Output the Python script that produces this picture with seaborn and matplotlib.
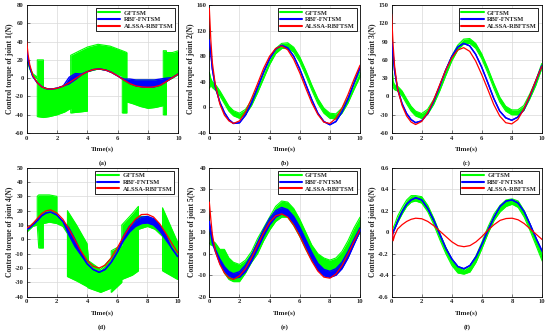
import matplotlib
matplotlib.use("Agg")
import matplotlib.pyplot as plt
import seaborn as sns
from matplotlib.lines import Line2D
from matplotlib.ticker import FuncFormatter

# common time grid (s)
t = [0, 0.1, 0.2, 0.4, 0.7, 1.0, 1.3, 1.6, 2.0, 2.4, 2.8, 3.2, 3.6, 4.0, 4.4,
     4.8, 5.2, 5.6, 6.0, 6.4, 6.8, 7.2, 7.6, 8.0, 8.4, 8.8, 9.2, 9.6, 10.0]

series_names = ["GFTSM", "RBF-FNTSM", "ALSSA-RBFTSM"]
panel_letters = ["(a)", "(b)", "(c)", "(d)", "(e)", "(f)"]

# ---- joint 1 ----
red_1 = [40, 25, 15, 3, -5, -9.5, -11.5, -12, -11, -8.7, -5, -0.7, 3.6, 7.1, 9.4,
         10, 8.9, 6.2, 2.4, -2, -6, -8.5, -9.6, -10, -9.5, -7.7, -3.7, 0.6, 4.7]
blue_lo_1 = [30, 20, 12, 2, -5, -9.5, -11.5, -12, -11, -8.7, -6, -1.5, 3.6, 7.1, 9.4,
             10, 8.9, 6.2, 2.4, -2, -6, -8.5, -9.6, -10, -9.5, -7.7, -3.7, 0.6, 4.7]
blue_hi_1 = [30, 20, 12, 2, -5, -9.5, -11.5, -12, -11, -8.7, 1, 5, 4.5, 7.1, 9.4,
             10, 8.9, 6.2, 2.4, -1, -1, -2, -2, -2, -2, -1, 0, 0.6, 4.7]
green_t_1 = [0, 0.2, 0.4, 0.7, 0.7, 1.1, 1.1, 1.5, 2.0, 2.5, 2.9, 2.9, 3.5, 4.0, 4.0,
             4.7, 5.5, 6.3, 6.3, 6.6, 6.6, 7.0, 7.5, 8.0, 8.5, 9.0, 9.0, 9.2, 9.2, 9.6, 10]
green_lo_1 = [20, 10, 3, -1, -42, -43, -43, -42, -40, -37, -33, -38, -37, -36, 7,
              10, 8, 2, -38, -38, -26, -28, -31, -33, -32, -30, -40, -40, -3, 0, 4]
green_hi_1 = [20, 12, 5, 1, 20, 20, -10, -12, -11, -8, -4, 25, 30, 34, 34,
              37, 35, 30, 30, 28, -3, -2, -2, -2, -2, -2, 30, 30, 28, 28, 30]

# ---- joint 2 ----
red_2 = [155, 105, 70, 35, 5, -12, -21, -25, -21, -7, 14, 37, 61, 80, 92,
         96, 90, 75, 54, 30, 7, -11, -23, -25, -17, -1, 20, 44, 66]
blue_2 = [105, 85, 60, 32, 8, -8, -19, -25, -24, -12, 7, 31, 55, 76, 91,
          97, 93, 80, 60, 36, 12, -9, -22, -27, -22, -7, 13, 38, 62]
green_lo_2 = [30, 35, 31, 27, 18, 6, -6, -13, -17, -11, 3, 23, 45, 67, 84,
              92, 93, 86, 71, 50, 27, 6, -9, -17, -18, -9, 7, 28, 48]
green_hi_2 = [55, 45, 40, 36, 26, 14, 2, -5, -9, -3, 11, 31, 53, 75, 92,
              100, 101, 94, 79, 58, 35, 14, -1, -9, -10, -1, 15, 36, 56]

# ---- joint 3 ----
red_3 = [135, 85, 50, 12, -15, -32, -42, -46, -41, -27, -6, 19, 43, 63, 76,
         80, 74, 58, 36, 12, -13, -32, -43, -45, -38, -21, 1, 26, 49]
blue_3 = [90, 70, 42, 12, -12, -28, -38, -43, -40, -28, -8, 17, 43, 65, 81,
          87, 83, 69, 48, 23, -3, -24, -35, -39, -34, -22, 0, 25, 50]
green_lo_3 = [25, 15, 11, 9, 1, -12, -24, -32, -36, -29, -13, 9, 34, 58, 76,
              86, 87, 79, 62, 39, 14, -9, -24, -30, -30, -23, -4, 18, 46]
green_hi_3 = [60, 25, 19, 17, 9, -4, -16, -24, -28, -21, -5, 17, 42, 66, 84,
              94, 95, 87, 70, 47, 22, -1, -16, -22, -22, -15, 4, 26, 54]

# ---- joint 4 ----
red_4 = [8, 8.5, 9, 11, 14.5, 18, 20, 20.5, 18.4, 14, 7.2, -0.6, -8.3, -14.7, -18.8,
         -20, -18, -13, -6, 1.7, 8.5, 14, 17.3, 17.5, 15.6, 11, 4.5, -2.6, -9.3]
blue_lo_4 = [7, 7.5, 8, 10, 13, 16.5, 18.5, 19, 17, 12.5, 3, -5, -11, -17, -21,
             -23, -21, -16, -9, -1, 5, 9, 11, 11.5, 10, 6, 0, -6, -12]
blue_hi_4 = [7, 7.5, 8, 10, 13, 16.5, 18.5, 19, 17, 12.5, 8, 0, -9, -17, -21,
             -23, -21, -16, -9, 2, 9, 13, 15.5, 16, 14.5, 10, 3, -6, -12]
green_t_4 = [0, 0.4, 0.7, 0.7, 0.8, 0.8, 1.1, 1.1, 1.5, 2.0, 2.0, 2.4, 2.7, 2.7, 3.3,
             4.0, 4.1, 4.1, 4.9, 5.6, 5.6, 6.3, 6.3, 7.0, 7.4, 7.4, 8.0, 8.5, 9.0, 9.0,
             9.5, 10.0]
green_lo_4 = [5, 9, 10, 10, -6, -6, -6, 11, 12, 11, 11, 9, 4, -26, -29,
              -33, -34, -34, -37, -34, -37, -30, -28, -25, -22, 7, 9, 7, 2, -22,
              -25, -28]
green_hi_4 = [7, 11, 13, 30, 31, 31, 31, 31, 31, 30, 17, 12, 6, 20, 10,
              -3, -15, -15, -21, -13, -8, -4, 10, 18, 23, 16, 16, 13, 7, 22,
              10, -2]

# ---- joint 5 ----
red_5 = [24, 16, 9, 1, -5, -9, -11.3, -12, -10.3, -7, -1.9, 3.9, 9.7, 14.6, 17.6,
         18.5, 17, 13.3, 8.1, 2.2, -3.5, -8.1, -10.9, -11.4, -9.5, -5.6, -0.2, 5.7, 11.3]
blue_lo_5 = [13, 9, 5, 1, -4.5, -8, -10.3, -11.3, -11, -8.3, -3.6, 2.2, 8.2, 13.4, 17,
             18.5, 17.5, 14.3, 9.4, 3.5, -2.4, -7.5, -10.3, -11, -10, -7, -2, 4.3, 10.5]
blue_hi_5 = [15, 11, 7, 2, -2.5, -6, -8.3, -9.3, -8.4, -5.3, -0.6, 5.2, 11.2, 16.4, 20,
             21.5, 20.5, 17.3, 12.4, 6.5, 0.6, -4.5, -7.3, -8.2, -7, -4, 1, 6.7, 12.1]
green_lo_5 = [5, 4, 4, 2, -4, -9, -12, -13, -13, -9, -4, 0, 6, 11, 15,
              17, 17, 13, 8, 2, -3, -7, -9, -10, -9, -5, 0, 5, 10]
green_hi_5 = [11, 8, 6, 5, 2, 2, -2, -4, -5, -3, 1, 7, 12, 17, 22,
              24.5, 24, 21, 16, 10, 4, 0, -2, -3, -2, 1, 6, 12, 17]

# ---- joint 6 ----
red_6 = [0.17, -0.08, -0.03, 0.03, 0.07, 0.1, 0.12, 0.13, 0.125, 0.1, 0.06, 0.01, -0.04,
         -0.09, -0.125, -0.135, -0.125, -0.09, -0.04, 0.02, 0.07, 0.11, 0.127, 0.13,
         0.115, 0.08, 0.03, -0.02, -0.07]
blue_6 = [-0.05, 0.0, 0.03, 0.1, 0.19, 0.26, 0.3, 0.32, 0.3, 0.22, 0.11, -0.02, -0.15,
          -0.25, -0.32, -0.34, -0.31, -0.23, -0.11, 0.02, 0.14, 0.24, 0.29, 0.3, 0.27,
          0.19, 0.07, -0.06, -0.18]
green_lo_6 = [-0.04, 0.0, 0.03, 0.09, 0.17, 0.24, 0.28, 0.29, 0.27, 0.19, 0.07, -0.07, -0.2,
              -0.31, -0.38, -0.39, -0.37, -0.28, -0.15, -0.01, 0.11, 0.19, 0.24, 0.26,
              0.23, 0.14, 0.01, -0.13, -0.27]
green_hi_6 = [0.0, 0.04, 0.07, 0.15, 0.23, 0.3, 0.34, 0.34, 0.33, 0.25, 0.13, -0.01, -0.14,
              -0.25, -0.32, -0.35, -0.31, -0.22, -0.09, 0.05, 0.17, 0.25, 0.3, 0.31,
              0.29, 0.2, 0.07, -0.07, -0.21]

y_limits = [(-60, 80, 20), (-40, 160, 40), (-60, 150, 30),
            (-40, 50, 10), (-20, 40, 10), (-0.6, 0.6, 0.2)]

panels = [
    (green_t_1, green_lo_1, green_hi_1, blue_lo_1, blue_hi_1, red_1),
    (t, green_lo_2, green_hi_2, blue_2, blue_2, red_2),
    (t, green_lo_3, green_hi_3, blue_3, blue_3, red_3),
    (green_t_4, green_lo_4, green_hi_4, blue_lo_4, blue_hi_4, red_4),
    (t, green_lo_5, green_hi_5, blue_lo_5, blue_hi_5, red_5),
    (t, green_lo_6, green_hi_6, blue_6, blue_6, red_6),
]

sns.set_style("ticks")
plt.rcParams["font.family"] = ["Liberation Serif", "DejaVu Serif"]
plt.rcParams["font.weight"] = "bold"
plt.rcParams["axes.unicode_minus"] = False

GREEN, BLUE, RED = "#00ff00", "#0000ff", "#ff0000"

fig = plt.figure(figsize=(5.5, 3.31), dpi=100)
rects = [
    (0.0485, 0.598, 0.276, 0.387), (0.3806, 0.598, 0.274, 0.387), (0.712, 0.598, 0.273, 0.387),
    (0.0485, 0.1037, 0.2745, 0.3897), (0.3806, 0.1037, 0.274, 0.3897), (0.712, 0.1037, 0.274, 0.3897),
]

for i, (rect, data, lim) in enumerate(zip(rects, panels, y_limits)):
    gt, glo, ghi, blo, bhi, red = data
    ax = fig.add_axes(rect)
    ax.grid(True, color="#d9d9d9", lw=0.5, zorder=0)

    # GFTSM chattering band
    ax.fill_between(gt, glo, ghi, color=GREEN, lw=0, zorder=2)
    sns.lineplot(x=gt, y=glo, color=GREEN, lw=0.8, sort=False, estimator=None, ax=ax, zorder=2)
    sns.lineplot(x=gt, y=ghi, color=GREEN, lw=0.8, sort=False, estimator=None, ax=ax, zorder=2)

    # RBF-FNTSM
    ax.fill_between(t, blo, bhi, color=BLUE, lw=0, zorder=3)
    sns.lineplot(x=t, y=blo, color=BLUE, lw=1.0, sort=False, estimator=None, ax=ax, zorder=3)
    sns.lineplot(x=t, y=bhi, color=BLUE, lw=1.0, sort=False, estimator=None, ax=ax, zorder=3)

    # ALSSA-RBFTSM
    sns.lineplot(x=t, y=red, color=RED, lw=0.9, sort=False, estimator=None, ax=ax, zorder=4)

    lo, hi, step = lim
    ax.set_xlim(0, 10)
    ax.set_ylim(lo, hi)
    ax.set_xticks(range(0, 11, 2))
    n = int(round((hi - lo) / step))
    ax.set_yticks([lo + k * step for k in range(n + 1)])
    ax.yaxis.set_major_formatter(FuncFormatter(lambda v, p: f"{round(v, 6):g}"))
    ax.tick_params(labelsize=4.8, direction="in", length=2, width=0.4, pad=2)
    for s in ax.spines.values():
        s.set_linewidth(0.6)
        s.set_color("black")

    ax.set_xlabel("Time(s)", fontsize=5, fontweight="bold", labelpad=4)
    ax.set_ylabel(f"Control torque of joint {i + 1}(N)", fontsize=5.5, fontweight="bold",
                  labelpad=1)
    ax.text(0.5, -0.21, panel_letters[i], transform=ax.transAxes, ha="center", va="top",
            fontsize=5, fontweight="bold")

    handles = [Line2D([], [], color=c, lw=1.5) for c in (GREEN, BLUE, RED)]
    leg = ax.legend(handles, series_names, loc="upper right", fontsize=4.7,
                    frameon=True, fancybox=False, edgecolor="black", framealpha=1,
                    borderpad=0.3, handlelength=3.4, labelspacing=0.15,
                    handletextpad=0.5, borderaxespad=0.5)
    leg.get_frame().set_linewidth(0.6)
    for txt in leg.get_texts():
        txt.set_fontweight("bold")

fig.savefig("out.png", dpi=100)
